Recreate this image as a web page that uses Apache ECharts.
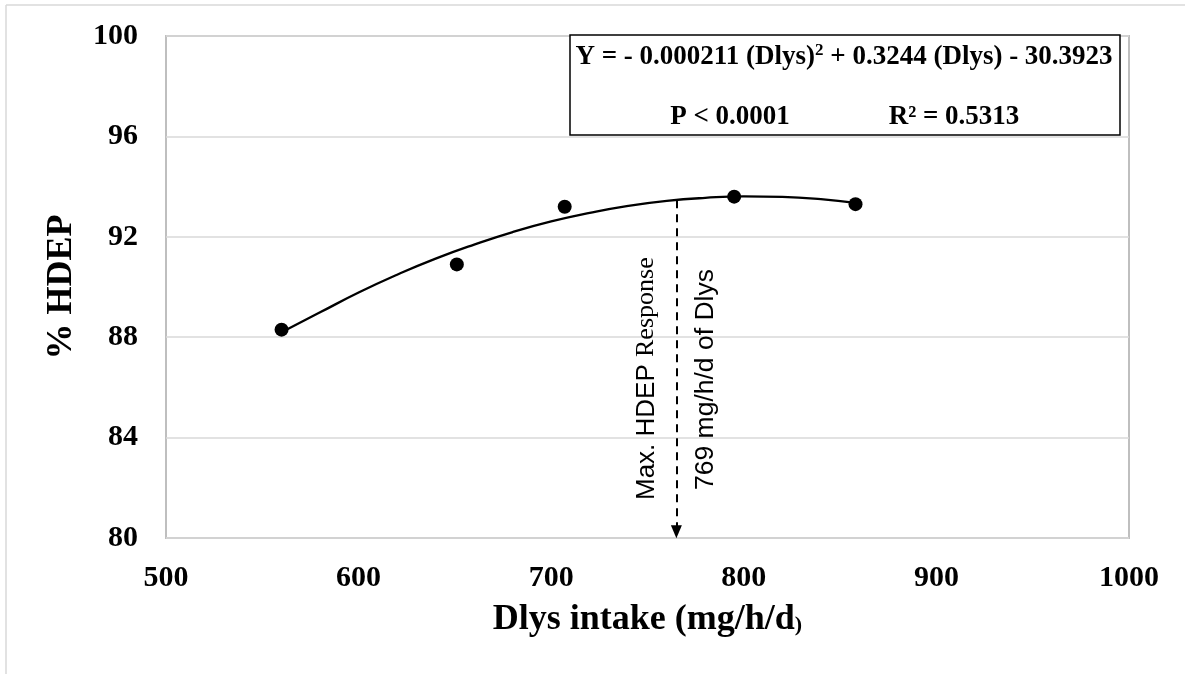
<!DOCTYPE html>
<html>
<head>
<meta charset="utf-8">
<script src="https://cdn.jsdelivr.net/npm/echarts@6/dist/echarts.min.js"></script>
<style>
html,body{margin:0;padding:0;background:#fff;}
#chart{width:1185px;height:674px;}
</style>
</head>
<body>
<div id="chart"></div>
<script>
// Observed data points (Dlys intake, % HDEP)
const dlysIntake = [560, 651, 707, 795, 858];
const hdep = [88.3, 90.9, 93.2, 93.6, 93.3];
// Trendline
const curveX = [560, 580, 600, 620, 640, 660, 680, 700, 720, 740, 760, 780, 800, 820, 840, 858];
const curveY = [88.2, 88.99, 89.78, 90.49, 91.13, 91.69, 92.19, 92.61, 92.95, 93.23, 93.43, 93.55, 93.61, 93.59, 93.50, 93.35];
// Maximum response marker (arrow position as drawn, and the stated value)
const arrowX = 765;
const arrowTop = 93.46;
const maxDlys = 769;
// Axis settings
const xTicks = [500, 1000, 100];
const yTicks = [80, 100, 4];
// Texts
const eqLine = ['Y = - 0.000211 (Dlys)', '2', ' + 0.3244 (Dlys) - 30.3923'];
const pText = 'P < 0.0001';
const r2Text = 'R² = 0.5313';
const maxLabelA = 'Max. HDEP ';
const maxLabelB = 'Response';
const doseLabel = maxDlys + ' mg/h/d of Dlys';
const xTitle = ['Dlys intake (mg/h/d', ')'];
const yTitle = '% HDEP';

const SERIF = '"Liberation Serif","Times New Roman",serif';
const SANS = '"Liberation Sans",Arial,sans-serif';

const chart = echarts.init(document.getElementById('chart'));
const option = {
  animation: false,
  backgroundColor: '#fff',
  grid: {left: 166, top: 36, right: 56, bottom: 136, show: true, borderColor: '#bfbfbf', borderWidth: 2, containLabel: false},
  xAxis: {
    type: 'value', min: xTicks[0], max: xTicks[1], interval: xTicks[2],
    axisLine: {show: false}, axisTick: {show: false}, splitLine: {show: false},
    axisLabel: {color: '#000', fontFamily: SERIF, fontWeight: 'bold', fontSize: 30, margin: 25, formatter: v => String(v)},
    name: '{a|' + xTitle[0] + '}{b|' + xTitle[1] + '}', nameLocation: 'middle', nameGap: 64,
    nameTextStyle: {rich: {
      a: {color: '#000', fontFamily: SERIF, fontWeight: 'bold', fontSize: 36},
      b: {color: '#000', fontFamily: SERIF, fontWeight: 'bold', fontSize: 22, padding: [10, 0, 0, 0]}
    }}
  },
  yAxis: {
    type: 'value', min: yTicks[0], max: yTicks[1], interval: yTicks[2],
    axisLine: {show: false}, axisTick: {show: false},
    splitLine: {show: true, lineStyle: {color: '#d9d9d9', width: 1.5}},
    axisLabel: {color: '#000', fontFamily: SERIF, fontWeight: 'bold', fontSize: 30, margin: 28},
    name: yTitle, nameLocation: 'middle', nameGap: 86, nameRotate: 90,
    nameTextStyle: {color: '#000', fontFamily: SERIF, fontWeight: 'bold', fontSize: 36}
  },
  series: [
    {
      type: 'line', smooth: true, showSymbol: false, symbol: 'none',
      data: curveX.map((x, i) => [x, curveY[i]]),
      lineStyle: {color: '#000', width: 2.3}, z: 2,
      markLine: {
        silent: true, symbol: ['none', 'triangle'], symbolSize: [11, 13],
        lineStyle: {color: '#000', width: 2, type: [8, 6], opacity: 1},
        itemStyle: {color: '#000'},
        label: {show: false},
        data: [[{coord: [arrowX, arrowTop]}, {coord: [arrowX, yTicks[0] + 0.25]}]]
      }
    },
    {
      type: 'scatter', symbol: 'circle', symbolSize: 14,
      data: dlysIntake.map((x, i) => [x, hdep[i]]),
      itemStyle: {color: '#000', opacity: 1}, z: 3
    }
  ]
};
chart.setOption(option);

const base = chart.convertToPixel({gridIndex: 0}, [arrowX, yTicks[0]]);
const ax = base[0];
const ay = base[1];
chart.setOption({
  graphic: [
    {type: 'line', shape: {x1: 6, y1: 5, x2: 1185, y2: 5}, style: {stroke: '#d9d9d9', lineWidth: 1.5}, silent: true},
    {type: 'line', shape: {x1: 6, y1: 5, x2: 6, y2: 674}, style: {stroke: '#d9d9d9', lineWidth: 1.5}, silent: true},
    {type: 'rect', shape: {x: 570, y: 35, width: 550, height: 100}, style: {fill: '#fff', stroke: '#000', lineWidth: 1.5}, z: 10},
    {type: 'text', x: 844, y: 57, z: 11, style: {
      text: '{t|' + eqLine[0] + '}{s|' + eqLine[1] + '}{t|' + eqLine[2] + '}',
      align: 'center', verticalAlign: 'middle',
      rich: {
        t: {fontFamily: SERIF, fontWeight: 'bold', fontSize: 27, fill: '#000', lineHeight: 30},
        s: {fontFamily: SERIF, fontWeight: 'bold', fontSize: 17, fill: '#000', lineHeight: 30, padding: [0, 0, 12, 0]}
      }
    }},
    {type: 'text', x: 730, y: 117, z: 11, style: {text: pText, align: 'center', verticalAlign: 'middle', fontFamily: SERIF, fontWeight: 'bold', fontSize: 27, fill: '#000'}},
    {type: 'text', x: 954, y: 117, z: 11, style: {text: r2Text, align: 'center', verticalAlign: 'middle', fontFamily: SERIF, fontWeight: 'bold', fontSize: 27, fill: '#000'}},
    {type: 'text', x: ax - 30, y: ay - 38, rotation: Math.PI / 2, z: 5, style: {
      text: '{a|' + maxLabelA + '}{b|' + maxLabelB + '}', align: 'left', verticalAlign: 'middle',
      rich: {
        a: {fontFamily: SANS, fontSize: 26, fill: '#000'},
        b: {fontFamily: SERIF, fontSize: 26, fill: '#000'}
      }
    }},
    {type: 'text', x: ax + 29, y: ay - 48, rotation: Math.PI / 2, z: 5, style: {
      text: doseLabel, align: 'left', verticalAlign: 'middle', fontFamily: SANS, fontSize: 26.5, fill: '#000'
    }}
  ]
});
</script>
</body>
</html>
